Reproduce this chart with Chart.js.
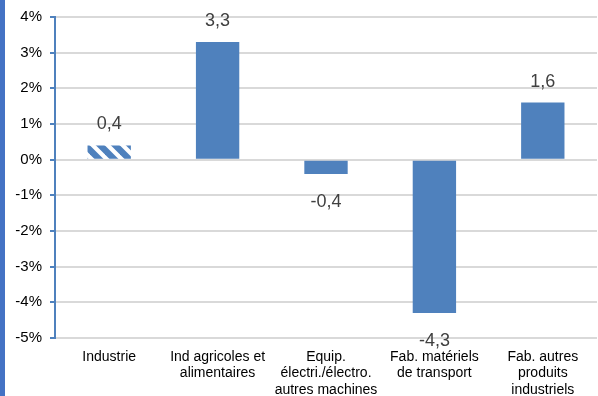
<!DOCTYPE html>
<html>
<head>
<meta charset="utf-8">
<script src="https://cdn.jsdelivr.net/npm/chart.js@4/dist/chart.umd.min.js"></script>
<style>
  html, body { margin: 0; padding: 0; background: #ffffff; }
  #wrap { width: 598px; height: 396px; position: relative; }
</style>
</head>
<body>
<div id="wrap"><canvas id="c" width="598" height="396"></canvas></div>
<script>
// Secteurs et évolution (en %)
const categories = [
  ["Industrie"],
  ["Ind agricoles et", "alimentaires"],
  ["Equip.", "électri./électro.", "autres machines"],
  ["Fab. matériels", "de transport"],
  ["Fab. autres", "produits", "industriels"]
];
const values = [0.4, 3.3, -0.4, -4.3, 1.6];
const yTicks = { min: -5, max: 4, step: 1 };

const FONT = '"Liberation Sans", Arial, sans-serif';
const BLUE = '#4F81BD';

// Hachures pour la barre « Industrie »
function hatch() {
  const s = 15;
  const c = document.createElement('canvas');
  c.width = s; c.height = s;
  const g = c.getContext('2d');
  g.fillStyle = '#ffffff';
  g.fillRect(0, 0, s, s);
  g.strokeStyle = BLUE;
  g.lineWidth = 6.4;
  for (let k = -1; k <= 1; k++) {
    g.beginPath();
    g.moveTo(-2, k * s - 2);
    g.lineTo(s + 2, s + k * s + 2);
    g.stroke();
  }
  return g.createPattern(c, 'repeat');
}
const ctx0 = document.getElementById('c').getContext('2d');
const pattern = hatch();
const barColors = values.map((v, i) => i === 0 ? pattern : BLUE);

// Bandeau vertical à gauche
const sideBand = {
  id: 'sideBand',
  beforeDraw(chart) {
    const g = chart.ctx;
    g.save();
    g.fillStyle = '#4472C4';
    g.fillRect(0, 0, 5, chart.height);
    g.restore();
  }
};

// Étiquettes de valeur (format français)
const valueLabels = {
  id: 'valueLabels',
  afterDatasetsDraw(chart) {
    const g = chart.ctx;
    const meta = chart.getDatasetMeta(0);
    g.save();
    g.font = '18px ' + FONT;
    g.fillStyle = '#404040';
    g.textAlign = 'center';
    g.textBaseline = 'alphabetic';
    meta.data.forEach((bar, i) => {
      const v = values[i];
      const txt = v.toFixed(1).replace('.', ',');
      const y = v >= 0 ? bar.y - 16 : bar.y + 33;
      g.fillText(txt, bar.x, y);
    });
    g.restore();
  }
};

new Chart(document.getElementById('c'), {
  type: 'bar',
  data: {
    labels: categories,
    datasets: [{
      data: values,
      backgroundColor: barColors,
      borderWidth: 0,
      categoryPercentage: 1,
      barPercentage: 0.4
    }]
  },
  options: {
    responsive: false,
    animation: false,
    events: [],
    layout: { padding: { top: 17, right: 1, left: 0, bottom: 0 } },
    plugins: { legend: { display: false }, tooltip: { enabled: false } },
    scales: {
      x: {
        grid: { display: false, drawTicks: false },
        border: { display: false },
        ticks: {
          color: '#000000',
          font: { family: FONT, size: 14, lineHeight: 1.17 },
          padding: 11,
          maxRotation: 0,
          autoSkip: false
        },
        afterFit(scale) { scale.height = 58; }
      },
      y: {
        min: yTicks.min,
        max: yTicks.max,
        grid: {
          color: '#d9d9d9',
          lineWidth: 2,
          drawTicks: true,
          tickLength: 5,
          tickColor: BLUE,
          tickWidth: 2
        },
        border: { display: true, color: BLUE, width: 2 },
        ticks: {
          stepSize: yTicks.step,
          color: '#000000',
          font: { family: FONT, size: 15 },
          padding: 8,
          callback: (v) => v + '%'
        },
        afterFit(scale) { scale.width = 55; }
      }
    }
  },
  plugins: [sideBand, valueLabels]
});
</script>
</body>
</html>
